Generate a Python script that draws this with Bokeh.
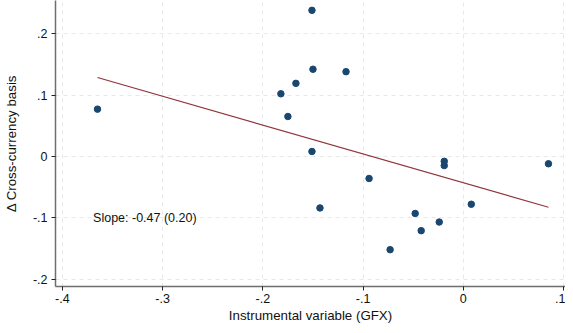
from bokeh.plotting import figure
from bokeh.models import Range1d, FixedTicker, CustomJSTickFormatter, Label
from bokeh.embed import file_html
from bokeh.resources import INLINE
import numpy as np

# Data
gfx = [-0.365, -0.151, -0.150, -0.117, -0.167, -0.182, -0.175, -0.151,
       -0.143, -0.094, -0.073, -0.019, -0.019, 0.085, 0.008, -0.048,
       -0.024, -0.042]
basis = [0.077, 0.238, 0.142, 0.138, 0.119, 0.102, 0.065, 0.008,
         -0.084, -0.036, -0.152, -0.008, -0.015, -0.012, -0.078, -0.093,
         -0.107, -0.121]
fit_slope = -0.47
fit_intercept = -0.043
slope_text = "Slope: -0.47 (0.20)"
x_ticks = [-0.4, -0.3, -0.2, -0.1, 0.0, 0.1]
y_ticks = [-0.2, -0.1, 0.0, 0.1, 0.2]

FONT = "Liberation Sans"

p = figure(width=565, height=325, output_backend="svg", toolbar_location=None,
           x_range=Range1d(-0.4069, 0.1020), y_range=Range1d(-0.212, 0.254),
           min_border_left=51, min_border_right=0, min_border_top=0,
           min_border_bottom=37)
p.outline_line_color = None
p.background_fill_color = "white"
p.border_fill_color = "white"

fmt = CustomJSTickFormatter(code="""
if (Math.abs(tick) < 1e-9) return '0';
var s = tick.toFixed(1);
return s.replace(/^(-?)0\\./, '$1.');
""")

for ax, ticks in ((p.xaxis[0], x_ticks), (p.yaxis[0], y_ticks)):
    ax.ticker = FixedTicker(ticks=ticks)
    ax.formatter = fmt
    ax.minor_tick_line_color = None
    ax.major_tick_in = 0
    ax.major_tick_out = 4
    ax.major_tick_line_color = "#222222"
    ax.axis_line_color = "#6e6e6e"
    ax.axis_line_width = 1.5
    ax.major_label_text_font = FONT
    ax.major_label_text_font_size = "12.5px"
    ax.major_label_text_color = "#111111"
    ax.axis_label_text_font = FONT
    ax.axis_label_text_font_size = "13.3px"
    ax.axis_label_text_font_style = "normal"
    ax.axis_label_text_color = "#111111"

p.xaxis.axis_label = "Instrumental variable (GFX)"
p.yaxis.axis_label = "Δ Cross-currency basis"
p.yaxis.major_label_orientation = "horizontal"
p.xaxis.major_label_standoff = 3
p.xaxis.axis_label_standoff = 2
p.yaxis.major_label_standoff = 4
p.yaxis.axis_label_standoff = 11

for g in (p.xgrid[0], p.ygrid[0]):
    g.grid_line_color = "#e8e8e8"
    g.grid_line_dash = "4 4"
    g.grid_line_width = 1
p.xgrid[0].ticker = FixedTicker(ticks=x_ticks)
p.ygrid[0].ticker = FixedTicker(ticks=y_ticks)

# Fitted line over data span
xs = np.array([min(gfx), max(gfx)])
p.line(xs, fit_intercept + fit_slope * xs, line_color="#90353b", line_width=1.2)

p.scatter(gfx, basis, size=6.5, color="#1a476f", marker="circle")

p.add_layout(Label(x=-0.3694, y=-0.1, text=slope_text, text_font=FONT,
                   text_font_size="12.5px", text_baseline="middle",
                   text_align="left", text_color="#111111"))

open("out.html", "w").write(file_html(p, INLINE))
